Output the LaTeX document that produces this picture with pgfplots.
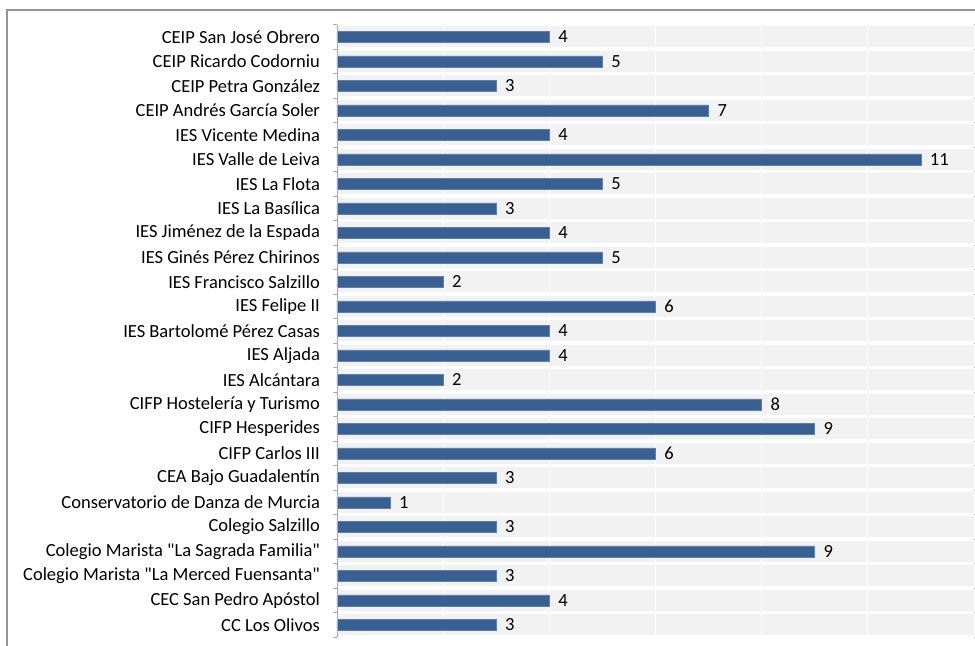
\documentclass[border=0pt]{standalone}
\usepackage{fontspec}
\setmainfont{Carlito}
\usepackage{pgfplots}
\pgfplotsset{compat=1.18}
\definecolor{barblue}{RGB}{56,96,146}
\definecolor{bandgray}{RGB}{242,242,242}
\definecolor{framegray}{RGB}{150,150,150}

\pgfplotstableread{
idx value
0 4
1 5
2 3
3 7
4 4
5 11
6 5
7 3
8 4
9 5
10 2
11 6
12 4
13 4
14 2
15 8
16 9
17 6
18 3
19 1
20 3
21 9
22 3
23 4
24 3
}\schools

\begin{document}
\begin{tikzpicture}
% 1 px of the reference = 0.5pt
\useasboundingbox (0,0) rectangle (487.5pt,-323pt);
\draw[framegray, line width=0.8pt] (3.5pt,-330pt) -- (3.5pt,-5pt) -- (495pt,-5pt);
\begin{axis}[
  at={(168.5pt,-318.6pt)}, anchor=south west,
  width=318.5pt, height=306.25pt, scale only axis,
  xbar, bar width=5.5pt, bar shift=0pt,
  xmin=0, xmax=12, ymin=-0.5, ymax=24.5,
  y dir=reverse,
  axis background/.style={fill=bandgray},
  axis line style={draw=none},
  xtick={2,4,...,10}, xticklabels={},
  xtick style={draw=none},
  xmajorgrids, major x grid style={white, line width=0.6pt},
  ytick={0,...,24},
  minor ytick={-0.5,0.5,...,24.5},
  yminorgrids, minor y grid style={white, line width=1.75pt},
  tick align=outside, major tick length=0pt, minor tick length=2pt,
  minor y tick style={framegray!80, line width=0.5pt},
  yticklabels={
    CEIP San José Obrero,
    CEIP Ricardo Codorniu,
    CEIP Petra González,
    CEIP Andrés García Soler,
    IES Vicente Medina,
    IES Valle de Leiva,
    IES La Flota,
    IES La Basílica,
    IES Jiménez de la Espada,
    IES Ginés Pérez Chirinos,
    IES Francisco Salzillo,
    IES Felipe II,
    IES Bartolomé Pérez Casas,
    IES Aljada,
    IES Alcántara,
    CIFP Hostelería y Turismo,
    CIFP Hesperides,
    CIFP Carlos III,
    CEA Bajo Guadalentín,
    Conservatorio de Danza de Murcia,
    Colegio Salzillo,
    Colegio Marista \textquotedbl La Sagrada Familia\textquotedbl,
    Colegio Marista \textquotedbl La Merced Fuensanta\textquotedbl,
    CEC San Pedro Apóstol,
    CC Los Olivos},
  yticklabel style={font=\fontsize{9.25}{11}\selectfont, xshift=-5pt},
  /pgf/number format/assume math mode=true,
  nodes near coords,
  nodes near coords style={font=\fontsize{9.25}{11}\selectfont, anchor=west, xshift=1pt},
]
\addplot[fill=barblue, draw=barblue!80!white, line width=0.3pt]
  table[x=value, y=idx] {\schools};
\end{axis}
\draw[framegray!80, line width=0.5pt] (168.5pt,-318.6pt) -- (168.5pt,-12.4pt);
\end{tikzpicture}
\end{document}
